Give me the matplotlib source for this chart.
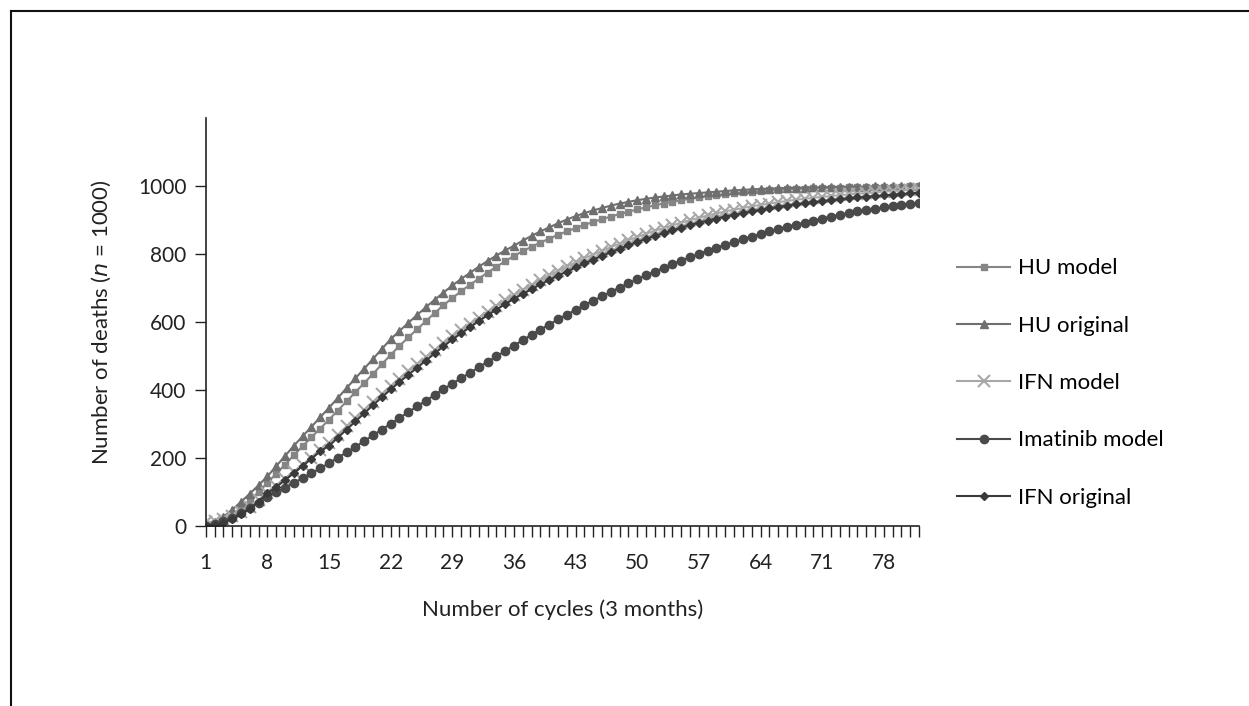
import numpy as np
import matplotlib.pyplot as plt
from matplotlib.lines import Line2D

plt.rcParams['font.family'] = ['Lato', 'DejaVu Sans']

# cycles (3 months each)
cycles = list(range(1, 83))

hu_model = [0, 6, 17, 33, 52, 74, 99, 126, 153, 180, 207, 234, 260, 286, 312, 339,
            366, 393, 420, 447, 475, 503, 529, 554, 578, 602, 626, 649, 670, 690,
            709, 727, 745, 762, 778, 794, 808, 821, 833, 845, 856, 866, 876, 885,
            894, 902, 910, 917, 924, 931, 937, 943, 948, 953, 958, 962, 966, 970,
            973, 976, 979, 981, 983, 985, 987, 988, 990, 991, 992, 993, 994, 995,
            995, 996, 996, 997, 997, 998, 998, 998, 999, 999]

hu_original = [0, 10, 26, 47, 70, 94, 119, 145, 175, 205, 235, 263, 291, 319, 347, 376,
               405, 434, 462, 491, 520, 549, 573, 597, 620, 643, 665, 686, 707, 726,
               744, 762, 779, 795, 810, 824, 839, 853, 866, 878, 890, 901, 911, 920,
               928, 935, 942, 948, 953, 958, 962, 966, 969, 972, 975, 977, 979, 981,
               983, 985, 987, 988, 990, 991, 992, 993, 994, 995, 995, 996, 996, 997,
               997, 998, 998, 998, 999, 999, 999, 1000, 1000, 1000]

ifn_model = [10, 13, 19, 28, 40, 56, 75, 97, 117, 137, 158, 179, 200, 222, 244, 268,
             292, 316, 340, 364, 387, 410, 432, 454, 475, 496, 517, 537, 557, 576,
             594, 612, 630, 647, 663, 679, 694, 709, 723, 737, 750, 763, 775, 787,
             798, 809, 820, 830, 840, 850, 859, 868, 876, 884, 892, 899, 906, 913,
             919, 925, 930, 935, 940, 944, 948, 952, 956, 959, 962, 965, 968, 970,
             973, 975, 977, 979, 981, 983, 985, 987, 989, 990]

imatinib_model = [0, 6, 14, 24, 36, 51, 67, 84, 98, 112, 126, 140, 154, 169, 184, 200,
                  216, 232, 249, 266, 283, 300, 317, 334, 351, 368, 385, 402, 418, 434,
                  450, 466, 482, 498, 514, 530, 546, 562, 577, 592, 607, 621, 635, 649,
                  662, 675, 688, 701, 713, 725, 737, 748, 759, 770, 780, 790, 800, 809,
                  818, 827, 835, 843, 851, 859, 866, 873, 880, 886, 892, 898, 904, 910,
                  915, 920, 925, 929, 933, 937, 941, 945, 948, 951]

ifn_original = [0, 3, 9, 19, 33, 50, 71, 95, 114, 134, 155, 176, 197, 219, 235, 259,
                283, 307, 331, 355, 378, 401, 423, 444, 465, 486, 507, 528, 548, 566,
                584, 602, 619, 636, 652, 668, 682, 696, 710, 723, 736, 748, 760, 772,
                783, 794, 805, 815, 825, 835, 844, 853, 861, 869, 877, 885, 892, 898,
                904, 910, 915, 920, 925, 930, 934, 938, 942, 946, 949, 952, 955, 958,
                961, 963, 966, 968, 970, 972, 974, 976, 978, 980]

xtick_labels = [1, 8, 15, 22, 29, 36, 43, 50, 57, 64, 71, 78]
ytick_labels = [0, 200, 400, 600, 800, 1000]

fig = plt.figure(figsize=(12.49, 7.06), dpi=100)
ax = fig.add_axes([0.1647, 0.2554, 0.5711, 0.5775])

ax.plot(cycles, hu_model, color='#858585', lw=1.5, marker='s', ms=5,
        label='HU model')
ax.plot(cycles, hu_original, color='#6f6f6f', lw=1.5, marker='^', ms=6,
        label='HU original')
ax.plot(cycles, ifn_model, color='#a8a8a8', lw=1.5, marker='x', ms=9, mew=1.5,
        label='IFN model')
ax.plot(cycles, imatinib_model, color='#4a4a4a', lw=1.5, marker='o', ms=6,
        label='Imatinib model')
ax.plot(cycles, ifn_original, color='#3a3a3a', lw=1.5, marker='D', ms=4.5,
        label='IFN original')

ax.set_xlim(1, 82)
ax.set_ylim(0, 1200)
ax.set_xticks(xtick_labels)
ax.set_xticks(cycles, minor=True)
ax.set_yticks(ytick_labels)
ax.tick_params(axis='both', which='both', direction='out', length=8, width=1,
               color='#222222', labelsize=15, colors='#222222')
ax.tick_params(axis='x', which='both', pad=12)
ax.tick_params(axis='y', pad=6)

for side in ['top', 'right']:
    ax.spines[side].set_visible(False)
for side in ['left', 'bottom']:
    ax.spines[side].set_color('#222222')
    ax.spines[side].set_linewidth(1.2)

ax.set_xlabel('Number of cycles (3 months)', fontsize=16, color='#222222',
              labelpad=19)
ax.set_ylabel('Number of deaths ($\\mathit{n}$ = 1000)', fontsize=16,
              color='#222222', labelpad=18)

ax.legend(loc='center left', bbox_to_anchor=(1.025, 0.35), frameon=False,
          fontsize=16, handlelength=2.4, labelspacing=1.68, handletextpad=0.35)

# outer frame
fig.add_artist(Line2D([0.0088, 0.0088], [0.0, 0.9844], color='#111111', lw=1.5))
fig.add_artist(Line2D([0.0088, 1.0], [0.9844, 0.9844], color='#111111', lw=1.5))

fig.savefig('out.png', dpi=100)
